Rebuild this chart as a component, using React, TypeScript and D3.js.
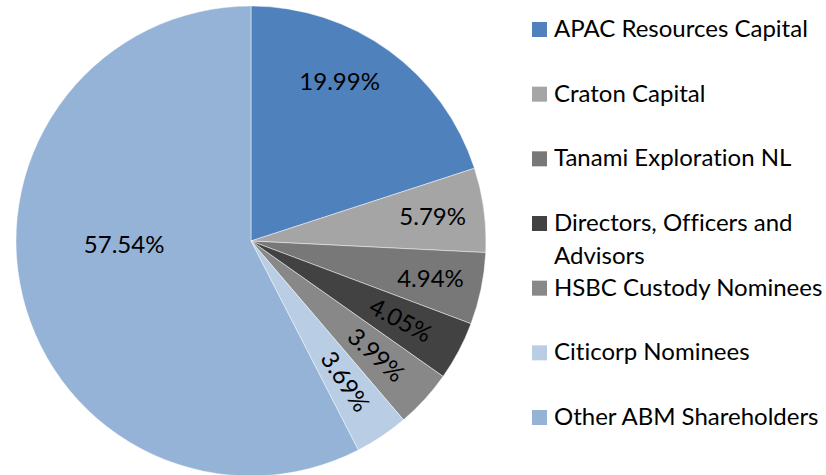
import React, { useEffect, useRef } from 'react'
import * as d3 from 'd3'

// shareholder breakdown, % of shares
const holders = [
  'APAC Resources Capital',
  'Craton Capital',
  'Tanami Exploration NL',
  'Directors, Officers and Advisors',
  'HSBC Custody Nominees',
  'Citicorp Nominees',
  'Other ABM Shareholders',
]
const shares = [19.99, 5.79, 4.94, 4.05, 3.99, 3.69, 57.54]
const colours = ['#4f81bd', '#a5a5a5', '#787878', '#424242', '#888888', '#b9cde5', '#95b3d7']
// legend text split over lines like the original
const legendLines = [
  ['APAC Resources Capital'],
  ['Craton Capital'],
  ['Tanami Exploration NL'],
  ['Directors, Officers and', 'Advisors'],
  ['HSBC Custody Nominees'],
  ['Citicorp Nominees'],
  ['Other ABM Shareholders'],
]

const W = 826, H = 475
const cx = 251, cy = 241, R = 235
const font = 'Lato, "Open Sans", sans-serif'

export default function App() {
  const ref = useRef<SVGSVGElement>(null)

  useEffect(() => {
    const svg = d3.select(ref.current)
    svg.selectAll('*').remove()

    const pie = d3.pie<number>().sort(null).value(d => d)
    const arcs = pie(shares)
    const arc = d3.arc<d3.PieArcDatum<number>>().innerRadius(0).outerRadius(R)

    const g = svg.append('g').attr('transform', `translate(${cx},${cy})`)
    g.selectAll('path.slice')
      .data(arcs)
      .enter()
      .append('path')
      .attr('class', 'slice')
      .attr('d', arc)
      .attr('fill', (d, i) => colours[i])
      .attr('stroke', 'rgba(255,255,255,0.45)')
      .attr('stroke-width', 1)

    // labels: small slices are turned along the radius, like the source
    const fmt = (v: number) => v.toFixed(2) + '%'
    arcs.forEach((a, i) => {
      let mid = (a.startAngle + a.endAngle) / 2
      let rf = 0.78
      let rot = 0
      if (i >= 3 && i <= 5) {
        rf = 0.72
        rot = (mid * 180) / Math.PI - 90
      }
      if (i === 0) { mid -= 0.12; rf = 0.775 }
      if (i === 6) { mid += 0.21; rf = 0.54 }
      const x = Math.sin(mid) * R * rf
      const y = -Math.cos(mid) * R * rf
      g.append('text')
        .attr('transform', `translate(${x},${y}) rotate(${rot})`)
        .attr('text-anchor', 'middle')
        .attr('dy', '0.35em')
        .attr('font-family', font)
        .attr('font-size', 24)
        .attr('fill', '#000')
        .text(fmt(shares[i]))
    })

    // legend
    const ly = d3.scaleLinear().domain([0, holders.length - 1]).range([37, 425])
    const leg = svg.append('g')
    holders.forEach((h, i) => {
      const base = ly(i)
      leg.append('rect')
        .attr('x', 532).attr('y', base - 15)
        .attr('width', 15).attr('height', 15)
        .attr('fill', colours[i])
      const t = leg.append('text')
        .attr('x', 554).attr('y', base)
        .attr('font-family', font)
        .attr('font-size', 24)
        .attr('fill', '#000')
        .style('font-variant-ligatures', 'none')
      legendLines[i].forEach((ln, k) => {
        t.append('tspan').attr('x', 554).attr('y', base + k * 33).text(ln)
      })
    })
  }, [])

  return (
    <svg
      ref={ref}
      width={W}
      height={H}
      style={{ position: 'absolute', left: 0, top: 0, background: '#fff' }}
    />
  )
}
